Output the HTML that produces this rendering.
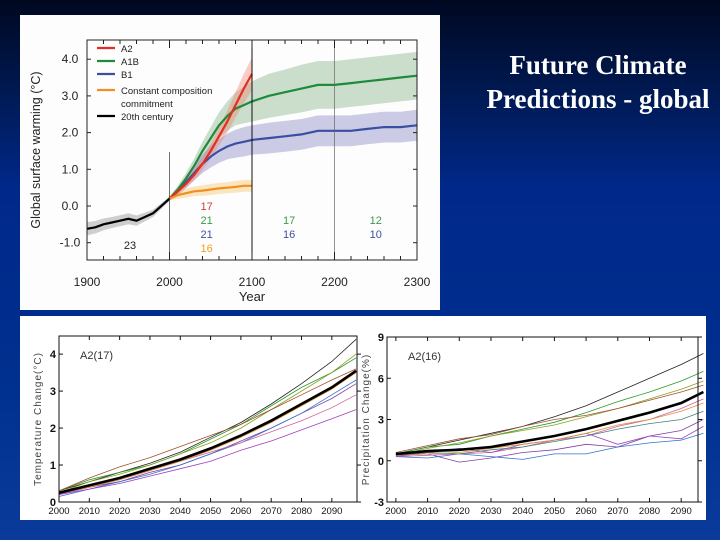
<!DOCTYPE html>
<html><head><meta charset="utf-8"><style>
html,body{margin:0;padding:0;}
body{width:720px;height:540px;overflow:hidden;background:linear-gradient(180deg,#000820 0%,#001a55 18%,#00288a 35%,#00308f 70%,#0a3a9a 100%);font-family:"Liberation Sans",sans-serif;position:relative;}
#title{position:absolute;left:466px;top:48px;width:264px;text-align:center;color:#fff;font-family:"Liberation Serif",serif;font-weight:bold;font-size:27px;line-height:34px;}
svg{position:absolute;left:0;top:0;}
</style></head><body>
<div id="title">Future Climate<br>Predictions - global</div>
<svg id="s" width="720" height="540"></svg>
<script>
// ---------- top chart data ----------
const histYears=[1900,1910,1920,1930,1940,1950,1960,1970,1980,1990,2000];
const histVals=[-0.62,-0.58,-0.5,-0.45,-0.4,-0.35,-0.4,-0.3,-0.2,0.0,0.2];
const histSpread=[0.18,0.17,0.16,0.15,0.15,0.15,0.14,0.12,0.1,0.08,0.06];
const yrs21=[2000,2010,2020,2030,2040,2050,2060,2070,2080,2090,2100];
const a2Vals=[0.2,0.4,0.6,0.85,1.15,1.5,1.9,2.3,2.75,3.2,3.6];
const a2Spread=[0.05,0.1,0.12,0.15,0.18,0.2,0.25,0.3,0.35,0.4,0.45];
const longYears=[2000,2010,2020,2030,2040,2050,2060,2070,2080,2090,2100,2120,2140,2160,2180,2200,2220,2240,2260,2280,2300];
const a1bVals=[0.2,0.45,0.75,1.1,1.5,1.85,2.2,2.45,2.65,2.75,2.85,3.0,3.1,3.2,3.3,3.3,3.35,3.4,3.45,3.5,3.55];
const a1bSpread=[0.05,0.1,0.15,0.2,0.25,0.3,0.35,0.4,0.45,0.5,0.55,0.6,0.62,0.65,0.65,0.65,0.65,0.65,0.65,0.65,0.65];
const b1Vals=[0.2,0.4,0.65,0.9,1.15,1.35,1.5,1.62,1.7,1.75,1.8,1.85,1.9,1.95,2.05,2.05,2.05,2.1,2.15,2.15,2.2];
const b1Spread=[0.05,0.1,0.15,0.2,0.25,0.3,0.32,0.35,0.38,0.4,0.4,0.42,0.42,0.42,0.42,0.42,0.42,0.42,0.42,0.42,0.42];
const ccVals=[0.2,0.3,0.35,0.4,0.42,0.45,0.48,0.5,0.52,0.55,0.55];
const ccSpread=[0.05,0.1,0.12,0.13,0.14,0.15,0.15,0.15,0.16,0.16,0.16];
const topYTicks=[-1,0,1,2,3,4];
const topYLabels=["-1.0","0.0","1.0","2.0","3.0","4.0"];
const topXTicks=[1900,2000,2100,2200,2300];
// ---------- bottom left data ----------
const blYears=[2000,2010,2020,2030,2040,2050,2060,2070,2080,2090,2098];
const blMean=[0.25,0.45,0.65,0.9,1.15,1.45,1.8,2.2,2.65,3.1,3.55];
const blM1=[0.3,0.55,0.8,1.05,1.35,1.75,2.15,2.65,3.2,3.8,4.4];
const blM2=[0.3,0.6,0.8,1.0,1.3,1.7,2.1,2.6,3.1,3.5,3.9];
const blM3=[0.25,0.55,0.75,1.0,1.3,1.6,2.0,2.5,3.0,3.5,4.0];
const blM4=[0.3,0.65,0.95,1.2,1.5,1.8,2.1,2.5,2.9,3.3,3.6];
const blM5=[0.2,0.4,0.55,0.8,1.0,1.3,1.65,2.0,2.4,2.8,3.2];
const blM6=[0.15,0.35,0.55,0.75,1.0,1.3,1.6,2.0,2.4,2.9,3.3];
const blM7=[0.2,0.4,0.6,0.85,1.1,1.35,1.6,1.9,2.2,2.55,2.9];
const blM8=[0.2,0.35,0.5,0.7,0.9,1.1,1.4,1.65,1.95,2.25,2.5];
const blM9=[0.25,0.4,0.6,0.85,1.1,1.4,1.75,2.15,2.6,3.05,3.5];
const blYTicks=[0,1,2,3,4];
const blXTicks=[2000,2010,2020,2030,2040,2050,2060,2070,2080,2090];
// ---------- bottom right data ----------
const brYears=[2000,2010,2020,2030,2040,2050,2060,2070,2080,2090,2097];
const brMean=[0.5,0.7,0.8,1.0,1.4,1.8,2.3,2.9,3.5,4.2,5.0];
const brM1=[0.5,1.0,1.5,2.0,2.5,3.2,4.0,5.0,6.0,7.0,7.8];
const brM2=[0.5,1.0,1.2,1.8,2.3,2.8,3.5,4.3,5.0,5.8,6.5];
const brM3=[0.4,0.9,1.3,1.8,2.2,2.6,3.2,3.8,4.5,5.2,5.8];
const brM4=[0.6,1.1,1.6,1.9,2.5,3.0,3.3,3.8,4.4,5.0,5.5];
const brM5=[0.4,0.5,-0.1,0.2,0.6,0.8,1.2,1.0,1.8,2.2,3.0];
const brM6=[0.3,0.2,0.5,0.3,0.1,0.5,0.5,1.0,1.3,1.5,2.0];
const brM7=[0.3,0.4,0.5,0.6,1.0,1.5,1.8,2.5,3.0,3.8,4.5];
const brM8=[0.3,0.6,0.9,0.6,1.2,1.5,2.0,1.2,1.8,1.6,2.5];
const brM9=[0.4,0.5,0.6,0.9,1.2,1.5,2.0,2.6,3.0,3.6,4.2];
const brM10=[0.4,0.6,0.5,0.8,1.0,1.4,1.8,2.3,2.7,3.0,3.6];
const brYTicks=[-3,0,3,6,9];
const brXTicks=[2000,2010,2020,2030,2040,2050,2060,2070,2080,2090];

const NS="http://www.w3.org/2000/svg";
const svg=document.getElementById('s');
function mk(tag,attrs,parent){const e=document.createElementNS(NS,tag);for(const k in attrs)e.setAttribute(k,attrs[k]);(parent||svg).appendChild(e);return e;}
function txt(x,y,s,attrs,parent){const e=mk('text',Object.assign({x:x,y:y},attrs||{}),parent);e.textContent=s;return e;}
function pathOf(xs,ys,fx,fy){return xs.map((v,i)=>(i?'L':'M')+fx(v).toFixed(1)+','+fy(ys[i]).toFixed(1)).join('');}
function bandOf(xs,ys,sp,fx,fy){let d=xs.map((v,i)=>(i?'L':'M')+fx(v).toFixed(1)+','+fy(ys[i]+sp[i]).toFixed(1)).join('');for(let i=xs.length-1;i>=0;i--)d+='L'+fx(xs[i]).toFixed(1)+','+fy(ys[i]-sp[i]).toFixed(1);return d+'Z';}

// ===== top chart =====
let bg=mk('rect',{x:20,y:15,width:420,height:295,fill:'#fdfdfd'});


const tx=y=>87+(y-1900)*0.825;
const ty=v=>206-v*36.7;
const gTop=mk('g',{});


function band(xs,ys,sp,col,name){const p=mk('path',{d:bandOf(xs,ys,sp,tx,ty),fill:col,'fill-opacity':0.4},gTop);}
function line(xs,ys,col,w,name){const p=mk('path',{d:pathOf(xs,ys,tx,ty),fill:'none',stroke:col,'stroke-width':w},gTop);}
band(histYears,histVals,histSpread,'#888','band-20th-century');
band(longYears,a1bVals,a1bSpread,'#7fb07f','band-a1b');
band(longYears,b1Vals,b1Spread,'#7f7fc0','band-b1');
band(yrs21,a2Vals,a2Spread,'#f08070','band-a2');
band(yrs21,ccVals,ccSpread,'#f5c060','band-commitment');
line(longYears,b1Vals,'#3a4fa0',2.2,'line-b1');
line(longYears,a1bVals,'#1e8a3c',2.2,'line-a1b');
line(yrs21,a2Vals,'#e03020',2.2,'line-a2');
line(yrs21,ccVals,'#f09020',2.2,'line-commitment');
line(histYears,histVals,'#000',2.2,'line-20th-century');
mk('line',{x1:tx(2000),x2:tx(2000),y1:152,y2:260,stroke:'#333','stroke-width':0.7},gTop);
mk('line',{x1:tx(2100),x2:tx(2100),y1:40,y2:260,stroke:'#111','stroke-width':1},gTop);
mk('line',{x1:tx(2200),x2:tx(2200),y1:40,y2:260,stroke:'#666','stroke-width':0.7},gTop);
mk('rect',{x:87,y:40,width:330,height:220,fill:'none',stroke:'#222','stroke-width':1},gTop);
topYTicks.forEach((v,i)=>{mk('line',{x1:87,x2:91,y1:ty(v),y2:ty(v),stroke:'#222'},gTop);mk('line',{x1:413,x2:417,y1:ty(v),y2:ty(v),stroke:'#222'},gTop);
 const t=txt(70,ty(v)+4,topYLabels[i],{'font-size':12,'text-anchor':'middle',fill:'#222'},gTop);});
for(let y=1900;y<=2300;y+=20){mk('line',{x1:tx(y),x2:tx(y),y1:260,y2:y%100?256:252,stroke:'#222'},gTop);mk('line',{x1:tx(y),x2:tx(y),y1:40,y2:y%100?44:48,stroke:'#222'},gTop);}
topXTicks.forEach(v=>{const t=txt(tx(v),286,String(v),{'font-size':12,'text-anchor':'middle',fill:'#222'},gTop);});
let t1=txt(252,301,'Year',{'font-size':13,'text-anchor':'middle',fill:'#222'},gTop);
let t2=txt(0,0,'Global surface warming (°C)',{'font-size':12.5,'text-anchor':'middle',fill:'#222',transform:'translate(40,150) rotate(-90)'},gTop);
[['A2','#e03020',52],['A1B','#1e8a3c',65],['B1','#3a4fa0',78],['Constant composition','#f09020',94],['20th century','#000',120]].forEach(l=>{
 const g=mk('g',{},gTop);
 mk('line',{x1:97,x2:115,y1:l[2]-4,y2:l[2]-4,stroke:l[1],'stroke-width':2.2},g);
 txt(121,l[2],l[0],{'font-size':9.5,fill:'#222'},g);});
txt(121,107,'commitment',{'font-size':9.5,fill:'#222'},gTop);
[['17','#d04040',tx(2045),210],['21','#3a9a4a',tx(2045),224],['21','#4050a0',tx(2045),238],['16','#f0a020',tx(2045),252],['23','#222',130,249],['17','#3a9a4a',tx(2145),224],['16','#4050a0',tx(2145),238],['12','#3a9a4a',tx(2250),224],['10','#4050a0',tx(2250),238]].forEach(c=>{
 const t=txt(c[2],c[3],c[0],{'font-size':11,'text-anchor':'middle',fill:c[1]},gTop);});

// ===== bottom panel =====
let bb=mk('rect',{x:20,y:316,width:686,height:204,fill:'#fff'});


const cols=['#222','#2a9a2a','#8aa020','#a05030','#8040a0','#3070d0','#d060a0','#a040c0','#e09030','#408080'];
function smallPanel(name,x0,x1,y0,y1,xmin,xmax,ymin,ymax,years,mean,members,yTicks,xTicks,yTitle,label){
 const g=mk('g',{});
 const fx=v=>x0+(v-xmin)/(xmax-xmin)*(x1-x0);
 const fy=v=>y1-(v-ymin)/(ymax-ymin)*(y1-y0);
 members.forEach((m,i)=>{const p=mk('path',{d:pathOf(years,m,fx,fy),fill:'none',stroke:cols[i%cols.length],'stroke-width':0.8},g);});
 const pm=mk('path',{d:pathOf(years,mean,fx,fy),fill:'none',stroke:'#000','stroke-width':2.6},g);
 mk('rect',{x:x0,y:y0,width:x1-x0,height:y1-y0,fill:'none',stroke:'#111','stroke-width':1},g);
 yTicks.forEach(v=>{mk('line',{x1:x0,x2:x0+4,y1:fy(v),y2:fy(v),stroke:'#111'},g);mk('line',{x1:x1,x2:x1+4,y1:fy(v),y2:fy(v),stroke:'#111'},g);
  const t=txt(x0-3,fy(v)+4,String(v),{'font-size':11,'text-anchor':'end',fill:'#111','font-weight':'bold'},g);});
 xTicks.forEach(v=>{mk('line',{x1:fx(v),x2:fx(v),y1:y1,y2:y1-4,stroke:'#111'},g);mk('line',{x1:fx(v),x2:fx(v),y1:y0,y2:y0+4,stroke:'#111'},g);
  const t=txt(fx(v),y1+12,String(v),{'font-size':9.5,'text-anchor':'middle',fill:'#111'},g);});
 const yt=txt(0,0,yTitle,{'font-size':10,'text-anchor':'middle',fill:'#444','letter-spacing':'1',transform:'translate('+(x0-18)+','+((y0+y1)/2)+') rotate(-90)'},g);
 const lb=txt(x0+21,y0+23,label,{'font-size':11,fill:'#333'},g);
}
smallPanel('temperature-panel',59,357,336,502,2000,2098.3,0,4.49,blYears,blMean,[blM1,blM2,blM3,blM4,blM5,blM6,blM7,blM8,blM9],blYTicks,blXTicks,'Temperature  Change(°C)','A2(17)');
smallPanel('precipitation-panel',387,698,337,502,1997.2,2095.3,-3,9,brYears,brMean,[brM1,brM2,brM3,brM4,brM5,brM6,brM7,brM8,brM9,brM10],brYTicks,brXTicks,'Precipitation  Change(%)','A2(16)');
</script>
</body></html>
